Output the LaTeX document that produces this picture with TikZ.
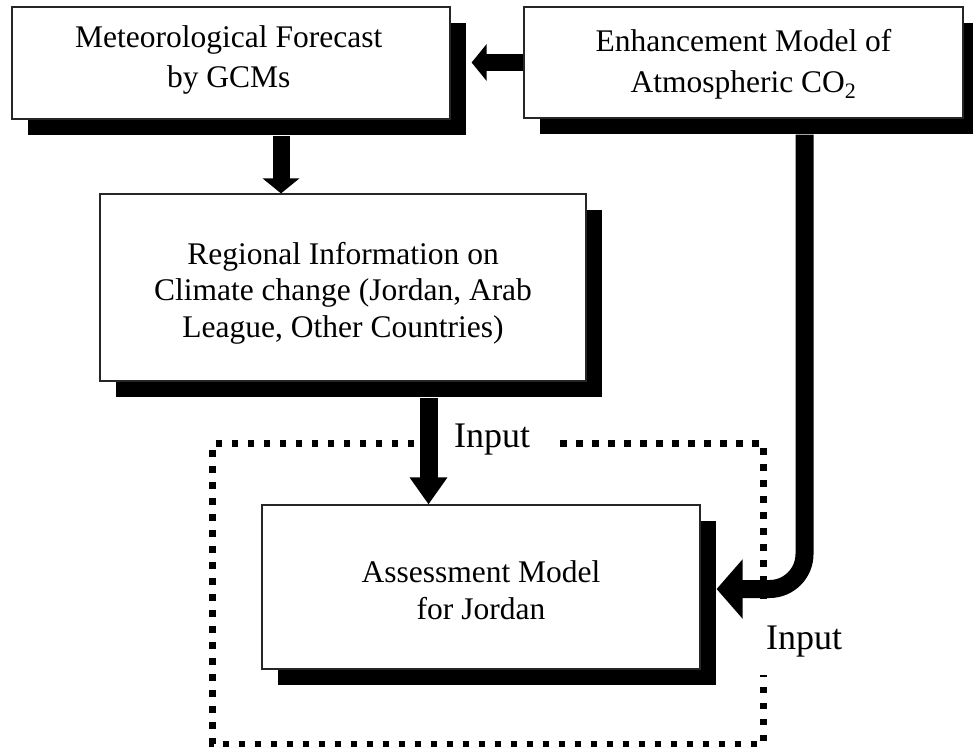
\documentclass[tikz,border=0pt]{standalone}
\usepackage{fontspec}
\setmainfont{Liberation Serif}
\usetikzlibrary{arrows.meta,shadows}
\newcommand\btext[3]{\smash{\parbox[t]{420pt}{\centering\fontsize{31.5}{#2}\selectfont #3}}\rule[-#1pt]{0pt}{#1pt}}
\tikzset{
  boxnode/.style={rectangle, draw=black!85, line width=1.2pt, fill=white, inner sep=0pt,
    drop shadow={shadow xshift=16pt, shadow yshift=-16pt, fill=black, opacity=1}},
  fat/.style={line width=17pt, -{Triangle[width=36pt,length=15pt]}},
  fatlong/.style={line width=18pt, -{Triangle[width=36pt,length=27pt]}},
  fatcurve/.style={line width=18pt, rounded corners=35pt, -{Triangle[width=58pt,length=26pt]}},
  frame/.style={line width=6.5pt, dash pattern=on 6.5pt off 9.5pt},
  inputlbl/.style={font=\fontsize{36}{40}\selectfont, inner sep=0pt, anchor=base west}
}
\begin{document}
\begin{tikzpicture}[x=1pt,y=-1pt]
\useasboundingbox (0,0) rectangle (973,748);
% dotted frame
\draw[frame] (430,443.5) -- (212.5,443.5) -- (212.5,744) -- (763.5,744) -- (763.5,675);
\draw[frame] (560,443.5) -- (763.5,443.5) -- (763.5,602);
% boxes
\node[boxnode, minimum width=438pt, minimum height=112pt] (box1) at (231,63)
  {\hspace{-4.5pt}\btext{32}{40}{Meteorological Forecast\\by GCMs}\hspace{4.5pt}};
\node[boxnode, minimum width=439pt, minimum height=111pt] (box2) at (743.5,62.5)
  {\btext{23}{41}{Enhancement Model of\\Atmospheric CO\textsubscript{2}}};
\node[boxnode, minimum width=486pt, minimum height=187pt] (box3) at (343,287.5)
  {\btext{47}{36.5}{Regional Information on\\Climate change (Jordan, Arab\\League, Other Countries)}};
\node[boxnode, minimum width=438pt, minimum height=164pt] (box4) at (481,587)
  {\btext{10}{37}{Assessment Model\\for Jordan}};
% labels
\node[inputlbl] (in1) at (454,447) {Input};
\node[inputlbl] (in2) at (766,649) {Input};
% connectors
\coordinate (a1) at ([xshift=21pt]box1.east);
\draw[fat] (box2.west) -- (a1 |- box2.west);
\coordinate (p1) at ([xshift=50pt,yshift=-16pt]box1.south);
\draw[fat] (p1) -- (p1 |- box3.north);
\coordinate (p3) at ([xshift=85.5pt,yshift=-16pt]box3.south);
\draw[fatlong] (p3) -- (p3 |- box4.north);
\coordinate (c1) at ([xshift=61pt,yshift=-16pt]box2.south);
\coordinate (c2) at ([xshift=16pt,yshift=-2pt]box4.east);
\draw[fatcurve] (c1) |- (c2);
\end{tikzpicture}
\end{document}
